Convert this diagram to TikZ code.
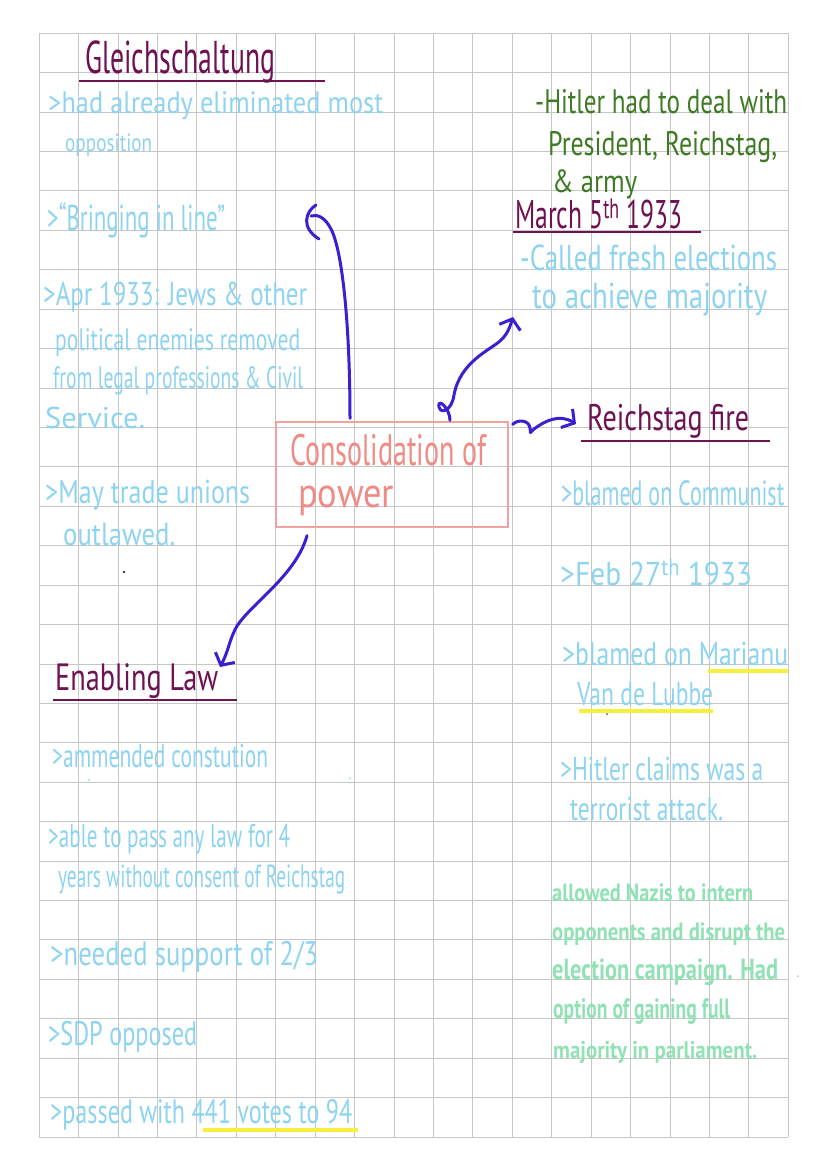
\documentclass[tikz,border=0pt]{standalone}
\usepackage{fontspec}
\setmainfont{PT Sans}
\usetikzlibrary{arrows.meta,calc}
\definecolor{gridc}{HTML}{C6C6C6}
\definecolor{headc}{HTML}{6E1252}
\definecolor{bluec}{HTML}{8ED3F0}
\definecolor{greenc}{HTML}{3F7A24}
\definecolor{mintc}{HTML}{90E2B4}
\definecolor{pinkc}{HTML}{F08A84}
\definecolor{boxc}{HTML}{F2A19C}
\definecolor{arrc}{HTML}{3A20CE}
\definecolor{yelc}{HTML}{F6F03C}
\newcommand{\hw}[2]{\resizebox{#1}{\height}{#2}}
\newcommand{\lbl}[7]{\node[txt,#5,font=\fontsize{#4}{#4}\selectfont] (#6) at (#1,#2) {\hw{#3pt}{#7}};}
\begin{document}
\begin{tikzpicture}[x=1pt,y=-1pt,
  txt/.style={inner sep=0pt,anchor=base west},
  hd/.style={text=headc}, bl/.style={text=bluec}, gr/.style={text=greenc},
  mn/.style={text=mintc}, pk/.style={text=pinkc},
  uline/.style={draw=headc,line width=1.4pt},
  hilite/.style={draw=yelc,line width=3.5pt},
  arr/.style={draw=arrc,line width=3pt,line cap=round,line join=round},
  tipd/.style={-{Straight Barb[length=9pt,width=22pt]}}]
\useasboundingbox (0,0) rectangle (828,1171);
\fill[white] (0,0) rectangle (828,1171);
% grid
\foreach \i in {0,...,19} \draw[gridc,line width=1pt] ({39.3+\i*39.42},33.3) -- ({39.3+\i*39.42},1137.1);
\foreach \j in {0,...,28} \draw[gridc,line width=1pt] (39.3,{33.3+\j*39.42}) -- (788.3,{33.3+\j*39.42});

% central box
\node[draw=boxc,line width=1.3pt,minimum width=232pt,minimum height=105pt,inner sep=0pt] (core) at (392,474.5) {};
\lbl{290}{465}{196}{44}{pk}{c1}{Consolidation of}
\lbl{298}{507}{96}{42}{pk}{c2}{power}

% Gleichschaltung
\lbl{85}{73}{190}{46}{hd}{gl}{Gleichschaltung}
\draw[uline] (79,81) -- (325,81);
\lbl{48}{113}{335}{31}{bl}{g1}{>had already eliminated most}
\lbl{65}{151}{87}{25}{bl}{g2}{opposition}
\lbl{47}{230}{178}{36}{bl}{g3}{>``Bringing in line''}
\lbl{43}{305}{264}{33}{bl}{g4}{>Apr 1933: Jews \& other}
\lbl{55}{350}{245}{31}{bl}{g5}{political enemies removed}
\lbl{53}{388}{250}{31}{bl}{g6}{from legal professions \& Civil}
\lbl{45}{428}{100}{30}{bl}{g7}{Service.}
\lbl{45}{503}{205}{33}{bl}{g8}{>May trade unions}
\lbl{63}{545}{112}{32}{bl}{g9}{outlawed.}

% right top
\lbl{535}{113}{252}{34}{gr}{h1}{-Hitler had to deal with}
\lbl{548}{155}{229}{34}{gr}{h2}{President, Reichstag,}
\lbl{552}{192}{85}{32}{gr}{h3}{\& army}
\lbl{515}{228}{167}{40}{hd}{m0}{March 5\textsuperscript{th} 1933}
\draw[uline] (513,232) -- (701,232);
\lbl{520}{270}{257}{36}{bl}{m1}{-Called fresh elections}
\lbl{532}{308}{235}{36}{bl}{m2}{to achieve majority}

% Reichstag fire
\lbl{587}{430}{162}{37}{hd}{rf}{Reichstag fire}
\draw[uline] (581,441) -- (770,441);
\lbl{561}{505}{223}{35}{bl}{r1}{>blamed on Communist}
\lbl{560}{585}{192}{33}{bl}{r2}{>Feb 27\textsuperscript{th} 1933}
\draw[hilite] (708,671) -- (788,671);
\draw[hilite] (579,711) -- (713,711);
\lbl{562}{665}{226}{33}{bl}{r3}{>blamed on Marianu}
\lbl{577}{705}{136}{33}{bl}{r4}{Van de Lubbe}
\lbl{560}{780}{203}{33}{bl}{r5}{>Hitler claims was a}
\lbl{570}{820}{153}{33}{bl}{r6}{terrorist attack.}
\lbl{552}{901}{201}{25}{mn}{n1}{\bfseries allowed Nazis to intern}
\lbl{552}{940}{233}{25}{mn}{n2}{\bfseries opponents and disrupt the}
\lbl{552}{979}{226}{29}{mn}{n3}{\bfseries election campaign. Had}
\lbl{553}{1018}{177}{28}{mn}{n4}{\bfseries option of gaining full}
\lbl{553}{1058}{204}{24}{mn}{n5}{\bfseries majority in parliament.}

% Enabling law
\lbl{55}{690}{163}{38}{hd}{el}{Enabling Law}
\draw[uline] (53,700) -- (237,700);
\lbl{52}{767}{216}{33}{bl}{e1}{>ammended constution}
\lbl{48}{847}{242}{33}{bl}{e2}{>able to pass any law for 4}
\lbl{58}{887}{287}{32}{bl}{e3}{years without consent of Reichstag}
\lbl{50}{965}{268}{34}{bl}{e4}{>needed support of 2/3}
\lbl{48}{1045}{149}{34}{bl}{e5}{>SDP opposed}
\draw[hilite] (203,1130) -- (358,1130);
\lbl{50}{1123}{302}{34}{bl}{e6}{>passed with 441 votes to 94}

% stray dots
\fill[black!80] (124,572) circle (1.3pt);
\fill[black!70] (607,714) circle (1pt);
\fill[bluec] (89,780) circle (1pt);
\fill[bluec] (350,778) circle (1pt);
\fill[gridc] (798,976) circle (1pt);

% connectors
\coordinate (a1s) at ([xshift=-42pt,yshift=3pt]core.north);
\coordinate (a1e) at (311,216);
\coordinate (a2s) at ([xshift=58pt,yshift=1pt]core.north);
\coordinate (a2e) at (513,317);
\coordinate (a3s) at ([xshift=4pt,yshift=-3pt]core.north east);
\coordinate (a3e) at ([xshift=-11pt,yshift=6pt]rf.base west);
\coordinate (a4s) at ([xshift=-85pt,yshift=-8pt]core.south);
\coordinate (a4e) at (220,667);

\draw[arr] (a1s) .. controls (350,330) and (343,252) .. (331,229)
  .. controls (325,217) and (317,214) .. (a1e);
\draw[arr] (316,205) .. controls (305,212) and (301,228) .. (319,239);

\draw[arr,tipd] (a2s) .. controls (450,408) and (437,397) .. (439,407)
  .. controls (441,415) and (452,410) .. (454,395)
  .. controls (460,362) and (490,350) .. (500,341)
  .. controls (507,335) and (510,327) .. (a2e);

\draw[arr,tipd] (a3s) .. controls (518,419) and (529,420) .. (530,428)
  .. controls (531,435) and (529,433) .. (534,429)
  .. controls (546,420) and (560,414) .. (a3e);

\draw[arr,tipd] (a4s) .. controls (296,575) and (252,603) .. (237,626)
  .. controls (229,640) and (229,650) .. (a4e);
\end{tikzpicture}
\end{document}
